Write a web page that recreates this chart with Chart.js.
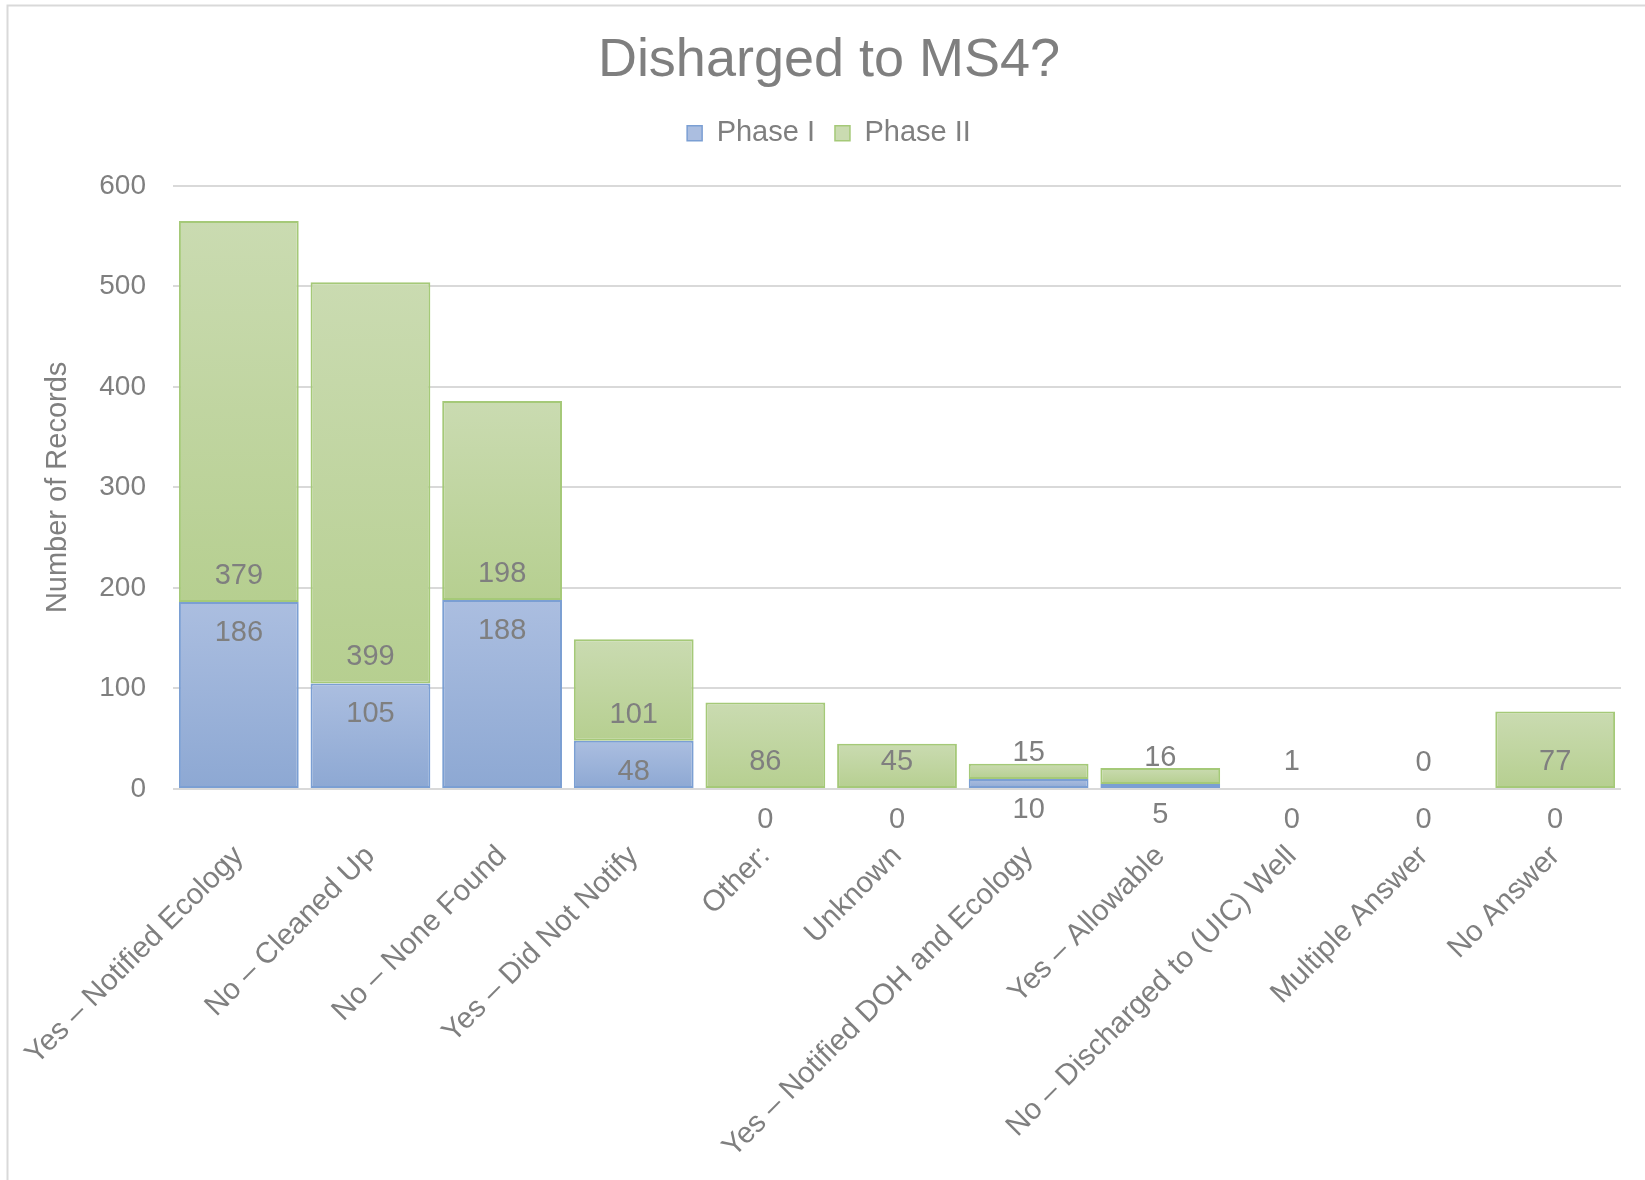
<!DOCTYPE html>
<html>
<head>
<meta charset="utf-8">
<script src="https://cdn.jsdelivr.net/npm/chart.js@4/dist/chart.umd.min.js"></script>
<style>
  html, body { margin: 0; padding: 0; background: #fff; }
  #c { display: block; }
</style>
</head>
<body>
<canvas id="c" width="1645" height="1180"></canvas>
<script>
// ---- Data ----
const categories = [
  'Yes – Notified Ecology',
  'No – Cleaned Up',
  'No – None Found',
  'Yes – Did Not Notify',
  'Other:',
  'Unknown',
  'Yes – Notified DOH and Ecology',
  'Yes – Allowable',
  'No – Discharged to (UIC) Well',
  'Multiple Answer',
  'No Answer'
];
const phase1 = [186, 105, 188, 48, 0, 0, 10, 5, 0, 0, 0];
const phase2 = [379, 399, 198, 101, 86, 45, 15, 16, 1, 0, 77];
const yTicks = [0, 100, 200, 300, 400, 500, 600];
const seriesNames = ['Phase I', 'Phase II'];
const chartTitle = 'Disharged to MS4?';
const yTitle = 'Number of Records';

// ---- Styles ----
const FONT = '"Liberation Sans", Arial, Helvetica, sans-serif';
const TEXT = '#7f7f7f';
const GRID = '#d9d9d9';
const BLUE_TOP = '#abbee0', BLUE_BOT = '#8da8d3', BLUE_EDGE = '#7b9fd3';
const GREEN_TOP = '#cadbb1', GREEN_BOT = '#b6cf90', GREEN_EDGE = '#a5c978';

function barGradient(top, bottom) {
  return (c) => {
    const chart = c.chart;
    if (!chart.chartArea || c.type !== 'data') return bottom;
    const ys = chart.scales.y;
    const i = c.dataIndex, d = c.datasetIndex;
    let start = 0;
    for (let k = 0; k < d; k++) start += chart.data.datasets[k].data[i];
    const end = start + chart.data.datasets[d].data[i];
    const y1 = ys.getPixelForValue(end), y0 = ys.getPixelForValue(start);
    if (y0 - y1 < 1) return bottom;
    const g = chart.ctx.createLinearGradient(0, y1, 0, y0);
    g.addColorStop(0, top);
    g.addColorStop(1, bottom);
    return g;
  };
}

const GAP_INSIDE_END = 31;   // Phase I label below its bar top
const GAP_INSIDE_BASE = 26;  // Phase II label above its bar base
const valueLabels = {
  id: 'valueLabels',
  afterDatasetsDraw(chart) {
    const ctx = chart.ctx;
    ctx.save();
    ctx.font = '29px ' + FONT;
    ctx.fillStyle = TEXT;
    ctx.textAlign = 'center';
    ctx.textBaseline = 'middle';
    chart.data.datasets.forEach((ds, di) => {
      const meta = chart.getDatasetMeta(di);
      meta.data.forEach((el, i) => {
        const p = el.getProps(['x', 'y', 'base'], true);
        const ty = di === 0 ? p.y + GAP_INSIDE_END : p.base - GAP_INSIDE_BASE;
        ctx.fillText(String(ds.data[i]), p.x, ty);
      });
    });
    ctx.restore();
  }
};

const frame = {
  id: 'frame',
  afterInit(chart) {
    const lg = chart.legend;
    if (lg && !lg._patched) {
      const orig = lg.fit.bind(lg);
      lg.fit = function () { orig(); this.height += 28; };
      lg._patched = true;
    }
  },
  beforeDraw(chart) {
    const ctx = chart.ctx;
    ctx.save();
    ctx.fillStyle = '#ffffff';
    ctx.fillRect(0, 0, chart.width, chart.height);
    ctx.strokeStyle = GRID;
    ctx.lineWidth = 2;
    ctx.strokeRect(7.5, 5.5, chart.width + 40, chart.height + 40);
    ctx.restore();
  }
};

const legendFill = [BLUE_TOP, GREEN_TOP];
const legendEdge = [BLUE_EDGE, GREEN_EDGE];

new Chart(document.getElementById('c'), {
  type: 'bar',
  data: {
    labels: categories,
    datasets: [
      {
        label: seriesNames[0],
        data: phase1,
        backgroundColor: barGradient(BLUE_TOP, BLUE_BOT),
        borderColor: BLUE_EDGE,
        borderWidth: 2,
        borderSkipped: false,
        categoryPercentage: 1.0,
        barPercentage: 0.91
      },
      {
        label: seriesNames[1],
        data: phase2,
        backgroundColor: barGradient(GREEN_TOP, GREEN_BOT),
        borderColor: GREEN_EDGE,
        borderWidth: 2,
        borderSkipped: false,
        categoryPercentage: 1.0,
        barPercentage: 0.91
      }
    ]
  },
  options: {
    responsive: false,
    animation: false,
    devicePixelRatio: 1,
    layout: { padding: { top: 10, left: 13, right: 0, bottom: 0 } },
    plugins: {
      title: {
        display: true,
        text: chartTitle,
        color: TEXT,
        font: { family: FONT, size: 54, weight: 'normal' },
        padding: { top: 19, bottom: 5 }
      },
      legend: {
        display: true,
        position: 'top',
        labels: {
          color: TEXT,
          font: { family: FONT, size: 29 },
          boxWidth: 15,
          boxHeight: 15,
          padding: 20,
          generateLabels(chart) {
            const items = Chart.defaults.plugins.legend.labels.generateLabels(chart);
            items.forEach((it, k) => {
              it.fillStyle = legendFill[k];
              it.strokeStyle = legendEdge[k];
              it.lineWidth = 1.5;
            });
            return items;
          }
        }
      },
      tooltip: { enabled: false }
    },
    scales: {
      x: {
        stacked: true,
        grid: { display: false, drawTicks: false },
        border: { display: false },
        ticks: {
          color: TEXT,
          font: { family: FONT, size: 29.5 },
          minRotation: 45,
          maxRotation: 45,
          autoSkip: false,
          padding: 50
        },
        afterFit(s) { s.height = 391; s.paddingLeft = 0; s.paddingRight = 24; }
      },
      y: {
        stacked: true,
        min: yTicks[0],
        max: yTicks[yTicks.length - 1],
        afterBuildTicks(s) { s.ticks = yTicks.map(v => ({ value: v })); },
        ticks: {
          color: TEXT,
          font: { family: FONT, size: 28 },
          padding: 27
        },
        grid: { color: GRID, lineWidth: 2, drawTicks: false },
        border: { display: false },
        title: {
          display: true,
          text: yTitle,
          color: TEXT,
          font: { family: FONT, size: 29 },
          padding: { top: 28, bottom: 0 }
        },
        afterFit(s) { s.width = 160; }
      }
    }
  },
  plugins: [frame, valueLabels]
});
</script>
</body>
</html>
